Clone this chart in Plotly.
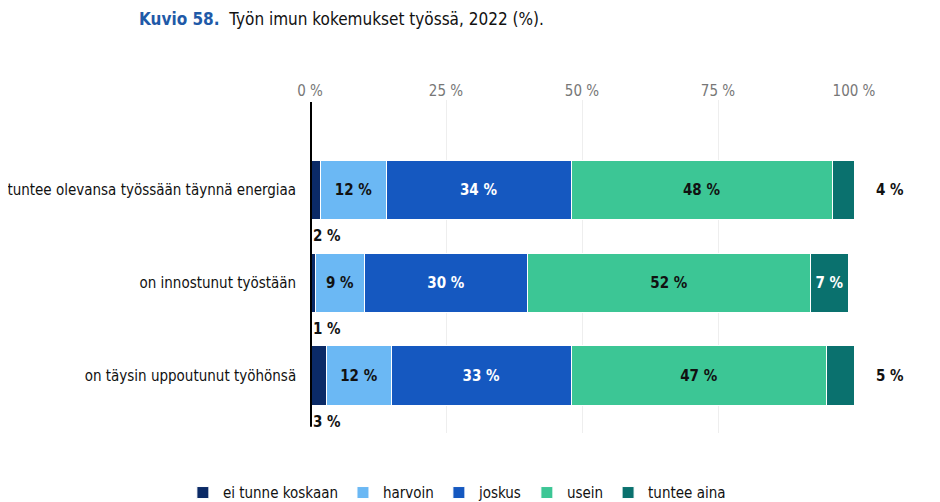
import plotly.graph_objects as go

categories = ["tuntee olevansa työssään täynnä energiaa", "on innostunut työstään", "on täysin uppoutunut työhönsä"]
series = ["ei tunne koskaan", "harvoin", "joskus", "usein", "tuntee aina"]
values = {
    "ei tunne koskaan": [2, 1, 3],
    "harvoin": [12, 9, 12],
    "joskus": [34, 30, 33],
    "usein": [48, 52, 47],
    "tuntee aina": [4, 7, 5],
}
colors = ["#0b2a66", "#6bb8f4", "#1558c0", "#3cc695", "#0a716e"]
text_colors = ["white", "#111111", "white", "#111111", "white"]
FONT = "DejaVu Sans Condensed, Liberation Sans Narrow, Roboto, sans-serif"

fig = go.Figure()
for i, s in enumerate(series):
    txt = []
    for j, v in enumerate(values[s]):
        # small segments are labelled outside the bar
        if v < 5 or (s == "tuntee aina" and v < 6):
            txt.append("")
        else:
            txt.append(f"<b>{v} %</b>")
    fig.add_trace(go.Bar(
        y=categories, x=values[s], name=s, orientation="h",
        marker=dict(color=colors[i], line=dict(width=1, color="white")),
        text=txt, textposition="inside", insidetextanchor="middle",
        textfont=dict(color=text_colors[i], size=15, family=FONT),
        width=0.64,
    ))

# outside labels
for j, c in enumerate(categories):
    v = values["ei tunne koskaan"][j]
    fig.add_annotation(x=0, y=j + 0.5, text=f"<b>{v} %</b>", showarrow=False,
                       xanchor="left", yanchor="middle", xshift=1,
                       font=dict(size=15, family=FONT, color="#111111"))
    v = values["tuntee aina"][j]
    if v < 6:
        fig.add_annotation(x=100, y=j, text=f"<b>{v} %</b>", showarrow=False,
                           xanchor="left", xshift=20,
                           font=dict(size=15, family=FONT, color="#111111"))
        fig.add_shape(type="line", x0=100, x1=103, y0=j, y1=j,
                      line=dict(color="#999999", width=1))

fig.add_shape(type="line", x0=0, x1=0, y0=-0.95, y1=2.55, yref="y",
              line=dict(color="black", width=4))

fig.add_annotation(xref="paper", yref="paper", x=-0.318, y=1.28, xanchor="left", yanchor="top",
                   text="<b><span style='color:#1f5aa8'>Kuvio 58.</span></b>  Työn imun kokemukset työssä, 2022 (%).",
                   showarrow=False, font=dict(size=17, family=FONT, color="#111111"))

fig.update_layout(
    width=940, height=502, barmode="stack",
    margin=dict(l=302, r=94, t=92, b=77, autoexpand=False),
    plot_bgcolor="white", paper_bgcolor="white",
    font=dict(family=FONT, size=15, color="#111111"),
    legend=dict(orientation="h", x=0.27, y=-0.13, xanchor="center", yanchor="top",
                font=dict(size=15, family=FONT), traceorder="normal"),
    xaxis=dict(side="top", range=[0, 100], tickvals=[0, 25, 50, 75, 100],
               ticktext=["0 %", "25 %", "50 %", "75 %", "100 %"], automargin=False,
               showgrid=True, gridcolor="#eeeeee", zeroline=False,
               tickfont=dict(color="#777777", size=15)),
    yaxis=dict(autorange="reversed", ticksuffix="   ", tickfont=dict(size=15), automargin=False),
)

fig.write_html("out.html")
